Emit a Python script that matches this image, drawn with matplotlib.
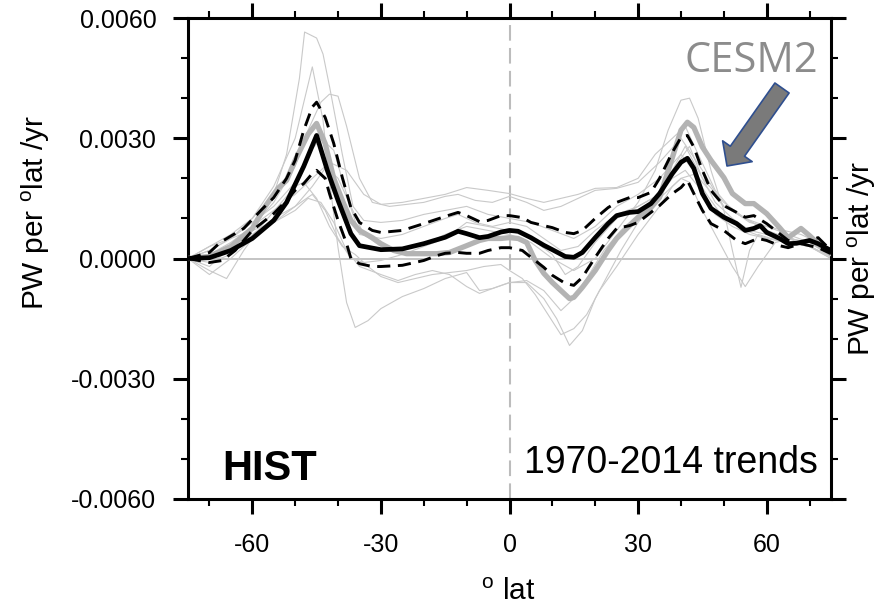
import numpy as np
import matplotlib
matplotlib.use("Agg")
import matplotlib.pyplot as plt
from matplotlib.ticker import MultipleLocator, FormatStrFormatter

plt.rcParams['font.family'] = ['Liberation Sans', 'DejaVu Sans']
plt.rcParams['axes.unicode_minus'] = False
plt.rcParams['mathtext.default'] = 'regular'

# trends in units of 1e-3 PW per deg lat per yr
# multi-model mean and spread (dashed)
lat_mean = [-75, -70, -65, -60, -55, -52, -48, -45, -42.5, -40, -37, -35, -30, -25, -20, -15, -12, -10, -7, -5, -2,
            0, 2, 5, 8, 10, 13, 15, 17, 20, 23, 25, 28, 30, 33, 35, 38, 40, 41.5, 43, 45, 47, 50, 53, 55, 57, 58.5,
            60, 63, 65, 67, 70, 72, 75]
mean = [0.0, 0.02, 0.2, 0.5, 0.95, 1.4, 2.3, 3.07, 2.2, 1.45, 0.62, 0.32, 0.22, 0.24, 0.37, 0.53, 0.68, 0.62, 0.52,
        0.55, 0.66, 0.70, 0.68, 0.52, 0.33, 0.22, 0.05, 0.03, 0.15, 0.52, 0.87, 1.07, 1.15, 1.17, 1.37, 1.62, 2.12,
        2.4, 2.5, 2.25, 1.62, 1.25, 1.03, 0.87, 0.7, 0.75, 0.82, 0.65, 0.5, 0.37, 0.38, 0.45, 0.37, 0.2]

lat_upper = [-75, -70, -67.5, -62, -58, -55, -52, -50, -48, -46, -45, -43, -41, -39, -37, -35, -32, -30, -25, -20,
             -15, -12, -10, -7, -5, -2, 0, 3, 5, 8, 10, 13, 15, 17, 20, 23, 25, 28, 30, 33, 35, 38, 40, 41.5, 43,
             45, 47, 50, 53, 55, 57, 60, 63, 65, 68, 70, 72, 75]
upper = [0.0, 0.15, 0.4, 0.75, 1.2, 1.52, 2.0, 2.45, 3.2, 3.78, 3.9, 3.52, 2.87, 2.02, 1.27, 0.9, 0.7, 0.65, 0.7,
         0.87, 1.05, 1.15, 1.07, 0.92, 0.95, 1.07, 1.07, 1.02, 0.9, 0.82, 0.77, 0.65, 0.62, 0.7, 1.0, 1.27, 1.4,
         1.52, 1.52, 1.65, 2.0, 2.65, 3.02, 3.07, 2.78, 2.2, 1.7, 1.32, 1.15, 1.03, 1.07, 0.87, 0.62, 0.45, 0.37,
         0.45, 0.52, 0.2]

lat_lower = [-75, -70, -67, -64, -60, -57, -55, -52, -50, -48, -46, -45, -43, -42, -40, -38, -37, -35, -32, -30,
             -25, -20, -17, -15, -12, -10, -7, -5, -2, 0, 3, 5, 8, 10, 13, 15, 17, 20, 23, 25, 28, 30, 33, 35, 38,
             40, 41.5, 43, 45, 47, 50, 53, 55, 58, 60, 63, 65, 68, 70, 72, 75]
lower = [0.0, -0.1, -0.05, 0.2, 0.7, 0.95, 1.12, 1.45, 1.7, 1.87, 2.12, 2.2, 2.0, 1.62, 0.95, 0.37, 0.0, -0.13,
         -0.2, -0.2, -0.17, -0.05, 0.07, 0.13, 0.15, 0.13, 0.13, 0.2, 0.27, 0.27, 0.2, 0.03, -0.22, -0.42, -0.62,
         -0.67, -0.47, 0.03, 0.5, 0.75, 0.82, 0.9, 1.15, 1.32, 1.62, 1.77, 1.95, 1.62, 1.2, 0.87, 0.7, 0.45, 0.37,
         0.5, 0.45, 0.32, 0.27, 0.37, 0.32, 0.27, 0.12]

# CESM2
lat_cesm = [-75, -70, -65, -60, -57, -54, -52, -50, -47, -45, -43, -41, -39, -37, -35, -32, -30, -27, -24, -20, -17,
            -14, -10, -7, -5, -2, 0, 2, 4, 6, 8, 10, 12, 14, 15, 17, 20, 23, 25, 28, 30, 33, 35, 38, 40, 41.5, 43,
            45, 47, 50, 52, 55, 57, 60, 63, 65, 68, 70, 72, 75]
cesm = [0.0, 0.05, 0.3, 0.75, 1.3, 1.75, 1.95, 2.45, 3.1, 3.37, 2.87, 2.0, 1.45, 0.95, 0.7, 0.52, 0.37, 0.2, 0.12,
        0.12, 0.12, 0.15, 0.32, 0.45, 0.5, 0.5, 0.52, 0.5, 0.4, -0.05, -0.37, -0.6, -0.8, -1.0, -0.97, -0.72, -0.3,
        0.2, 0.5, 0.82, 1.02, 1.27, 1.52, 2.52, 3.2, 3.4, 3.27, 2.78, 2.45, 2.02, 1.62, 1.37, 1.37, 1.12, 0.77,
        0.52, 0.75, 0.57, 0.37, 0.12]

# individual models
models = [
    ([-75, -70, -65, -60, -55, -52, -49, -47.8, -45, -43.5, -42, -39, -36.5, -34, -30, -25, -20, -15, -10, -5, 0,
      5, 10, 15, 20, 25, 30, 35, 40, 45, 50, 55, 60, 65, 70, 75],
     [0, 0.3, 0.6, 1.0, 1.6, 2.6, 4.5, 5.65, 5.5, 5.1, 4.3, 2.6, 1.3, 0.95, 0.9, 0.95, 1.1, 1.2, 1.3, 1.1, 1.0,
      0.9, 0.7, 0.5, 0.8, 1.3, 1.6, 2.0, 2.6, 1.9, 1.3, 1.0, 0.7, 0.5, 0.4, 0.1]),
    ([-75, -70, -65, -60, -55, -50, -46, -43.5, -42, -40, -38, -36, -33, -30, -25, -20, -15, -10, -7, -4, 0, 4,
      8, 11, 14, 17, 20, 23, 26, 30, 35, 40, 42, 45, 50, 55, 60, 65, 70, 75],
     [0, 0.2, 0.5, 1.0, 1.8, 3.0, 4.78, 3.45, 1.95, 0.27, -1.1, -1.72, -1.55, -1.25, -0.95, -0.75, -0.5, -0.35,
      -0.8, -0.75, -0.6, -0.6, -1.0, -1.5, -2.17, -1.8, -1.0, -0.4, 0.2, 0.9, 1.6, 2.5, 2.8, 2.0, 1.4, 1.0, 0.7,
      0.5, 0.3, 0.0]),
    ([-75, -70, -65, -60, -55, -50, -47, -44, -42, -40, -38, -35, -32, -28, -24, -20, -15, -12, -8, -4, 0, 4, 8,
      12, 16, 20, 25, 30, 35, 40, 45, 50, 55, 60, 65, 70, 75],
     [0, -0.2, 0.3, 0.8, 1.4, 2.3, 3.2, 3.9, 4.1, 4.05, 3.3, 2.0, 1.4, 1.3, 1.35, 1.4, 1.55, 1.6, 1.45, 1.4,
      1.55, 1.4, 1.2, 1.3, 1.5, 1.7, 1.75, 1.9, 2.4, 3.0, 2.2, 1.3, 1.0, 0.8, 0.6, 0.4, 0.1]),
    ([-75, -70, -66, -62, -58, -54, -50, -48, -45, -42, -39, -36, -33, -30, -26, -22, -18, -14, -10, -6, -2, 0,
      3, 6, 9, 12, 15, 18, 21, 25, 30, 35, 38, 40, 42, 45, 48, 52, 55, 58, 62, 66, 70, 75],
     [0, -0.3, -0.5, 0.2, 0.8, 1.3, 1.8, 1.9, 1.5, 0.8, 0.3, 0.1, -0.2, -0.45, -0.6, -0.5, -0.4, -0.35, -0.3,
      -0.2, -0.15, -0.3, -0.5, -0.9, -1.4, -1.9, -1.75, -1.4, -0.8, -0.2, 0.6, 1.3, 1.8, 2.0, 1.9, 1.2, 0.6,
      -0.2, -0.7, -0.2, 0.4, 0.5, 0.3, 0.05]),
    ([-75, -70, -65, -60, -55, -50, -46, -43, -40, -37, -34, -30, -25, -20, -15, -10, -5, 0, 5, 10, 15, 20, 25,
      30, 34, 37, 40, 42, 44, 47, 50, 52, 54, 56, 58, 61, 65, 70, 75],
     [0, 0.1, 0.4, 0.8, 1.2, 1.6, 2.0, 2.3, 2.0, 1.3, 0.6, 0.3, 0.2, 0.35, 0.6, 0.8, 0.7, 0.6, 0.4, 0.0, -0.3,
      0.0, 0.7, 1.4, 2.2, 3.2, 3.95, 4.0, 3.5, 2.2, 1.2, 0.2, -0.72, 0.2, 0.6, 0.5, 0.4, 0.3, 0.05]),
    ([-75, -70, -65, -60, -55, -50, -46, -42, -38, -34, -30, -25, -20, -15, -10, -5, 0, 4, 8, 12, 16, 20, 25, 30,
      34, 38, 41, 44, 48, 52, 56, 60, 64, 68, 72, 75],
     [0, 0.3, 0.5, 0.7, 0.9, 1.3, 1.8, 2.4, 2.2, 1.6, 1.35, 1.4, 1.5, 1.6, 1.77, 1.7, 1.62, 1.5, 1.4, 1.5, 1.6,
      1.75, 1.77, 2.0, 2.6, 3.0, 3.3, 2.6, 1.7, 1.2, 0.9, 0.8, 0.7, 0.6, 0.4, 0.1]),
    ([-75, -70, -65, -60, -55, -50, -46, -43, -40, -37, -34, -30, -25, -20, -15, -10, -5, 0, 5, 10, 13, 16, 20,
      25, 30, 35, 38, 41, 44, 48, 52, 56, 60, 65, 70, 75],
     [0, -0.1, 0.1, 0.6, 1.0, 1.3, 1.6, 1.2, 0.5, 0.0, -0.1, -0.05, 0.1, 0.3, 0.5, 0.9, 0.8, 0.7, 0.5, 0.1, -0.4,
      -0.2, 0.4, 1.0, 1.3, 1.6, 2.0, 2.2, 1.8, 1.1, 0.8, 0.6, 0.5, 0.4, 0.3, 0.05]),
    ([-75, -70, -65, -60, -55, -50, -47, -44, -41, -38, -35, -30, -26, -22, -18, -14, -10, -7, -4, 0, 4, 8, 12,
      15, 18, 22, 26, 30, 35, 40, 43, 46, 50, 55, 60, 65, 70, 75],
     [0, -0.4, 0.0, 0.5, 0.9, 1.2, 1.5, 1.4, 0.9, 0.2, -0.2, -0.4, -0.55, -0.4, -0.3, -0.4, -0.7, -0.87, -0.75,
      -0.6, -0.55, -0.8, -1.3, -1.0, -0.5, 0.2, 0.7, 1.1, 1.5, 2.0, 2.1, 1.6, 1.0, 0.7, 0.5, 0.4, 0.3, 0.0]),
    ([-75, -70, -65, -60, -55, -50, -47, -44, -41, -38, -35, -30, -25, -20, -15, -12, -8, -4, 0, 4, 8, 12, 16, 20,
      25, 30, 35, 38, 41, 44, 48, 52, 56, 60, 65, 70, 75],
     [0, 0.2, 0.5, 0.9, 1.3, 1.9, 2.6, 3.0, 2.7, 1.6, 0.6, 0.5, 0.6, 0.8, 1.0, 1.1, 0.9, 0.8, 0.9, 0.8, 0.5, 0.2,
      0.3, 0.7, 1.1, 1.3, 1.6, 2.2, 2.8, 2.2, 1.4, 1.0, 0.7, 0.6, 0.5, 0.4, 0.05]),
]

scale = 1e-3

fig = plt.figure(figsize=(8.79, 6.06), dpi=100)
ax = fig.add_axes([188 / 879, 107 / 606, 643 / 879, 481 / 606])

ax.axhline(0, color='#b4b4b4', lw=1.1, zorder=1)
ax.axvline(0, color='#bcbcbc', lw=1.5, dashes=(7.5, 3.5), zorder=1)

for mlat, mval in models:
    ax.plot(mlat, np.array(mval) * scale, color='#c9c9c9', lw=0.8, zorder=2)

ax.plot(lat_cesm, np.array(cesm) * scale, color='#b3b3b3', lw=3.8, zorder=3,
        solid_joinstyle='round', solid_capstyle='round')
ax.plot(lat_upper, np.array(upper) * scale, color='black', lw=2.1, dashes=(4.5, 2.6), zorder=4)
ax.plot(lat_lower, np.array(lower) * scale, color='black', lw=2.1, dashes=(4.5, 2.6), zorder=4)
ax.plot(lat_mean, np.array(mean) * scale, color='black', lw=3.4, zorder=5, solid_joinstyle='round')

ax.set_xlim(-75, 75)
ax.set_ylim(-0.006, 0.006)
ax.xaxis.set_major_locator(MultipleLocator(30))
ax.xaxis.set_minor_locator(MultipleLocator(10))
ax.yaxis.set_major_locator(MultipleLocator(0.003))
ax.yaxis.set_minor_locator(MultipleLocator(0.001))
ax.yaxis.set_major_formatter(FormatStrFormatter('%.4f'))

for s in ax.spines.values():
    s.set_linewidth(2.2)
ax.tick_params(which='both', direction='out', top=True, right=True)
ax.tick_params(which='major', length=10.8, width=2.2, labelsize=18)
ax.tick_params(which='minor', length=5, width=1.5)
ax.tick_params(axis='x', which='major', pad=14)
ax.tick_params(axis='y', which='major', pad=12)

ylab = 'PW per $\\mathregular{^o}$lat /yr'
fig.text(36 / 879, 1 - 212 / 606, ylab, rotation=90, ha='center', va='center', fontsize=21.5)
fig.text(862 / 879, 1 - 258 / 606, ylab, rotation=90, ha='center', va='center', fontsize=21.5)
fig.text(508 / 879, 6 / 606, '$\\mathregular{^o}$ lat', ha='center', va='baseline', fontsize=21.5)

ax.text(0.0529, 0.0395, 'HIST', transform=ax.transAxes, fontsize=30, fontweight='bold',
        ha='left', va='baseline')
ax.text(0.9798, 0.054, '1970-2014 trends', transform=ax.transAxes, fontsize=27,
        ha='right', va='baseline')

fig.text(685 / 879, 1 - 72 / 606, 'CESM2', fontsize=30, color='#8c8c8c',
         family=['Open Sans', 'DejaVu Sans'], ha='left', va='baseline')
ax.annotate('', xy=(727, 606 - 166), xytext=(782, 606 - 88),
            xycoords='figure pixels', textcoords='figure pixels',
            arrowprops=dict(arrowstyle='simple,head_length=1.3,head_width=2.6,tail_width=1.25',
                            mutation_scale=10, fc='#7a7a7a', ec='#2f4f8f', lw=1.2,
                            shrinkA=0, shrinkB=0))

fig.savefig('out.png', dpi=100)
